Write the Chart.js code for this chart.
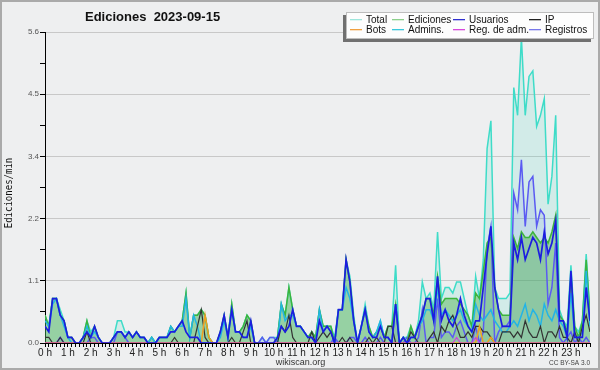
<!DOCTYPE html>
<html><head><meta charset="utf-8">
<script src="https://cdn.jsdelivr.net/npm/chart.js@4/dist/chart.umd.min.js"></script>
<style>html,body{margin:0;padding:0;background:#eeeff0;}canvas{display:block;}</style>
</head><body>
<canvas id="c" width="600" height="370"></canvas>
<script>
const hourLabels = ['0 h','1 h','2 h','3 h','4 h','5 h','6 h','7 h','8 h','9 h','10 h','11 h','12 h','13 h','14 h','15 h','16 h','17 h','18 h','19 h','20 h','21 h','22 h','23 h'];
const yTickValues = [0,0.56,1.12,1.68,2.24,2.8,3.36,3.92,4.48,5.04,5.6];
const seriesNames = ['Total','Ediciones','Usuarios','IP','Bots','Admins.','Reg. de adm.','Registros'];

const total = [
.5,.3,.8,.8,.6,.4, .1,.1,0,0,.1,.4, .2,.3,.1,0,0,0, .1,.4,.4,.2,.2,.1,
.2,.1,.1,0,.1,0, .1,.1,.1,.3,.2,.3, .4,.9,.1,.5,.5,.6, .5,.1,0,0,.2,.5,
.1,.7,.2,.2,.3,.5, .4,0,0,.1,0,.1, .1,.1,.7,.5,1.0,.6, .3,.3,.2,.1,.2,.1,
.6,.3,.3,.3,.1,.6, .6,1.5,1.2,.5,0,.3, .7,.3,.1,.2,.4,.1, .3,.3,1.4,0,.1,.1,
.3,.1,.4,1.1,.8,.9, .6,2.0,.8,1.0,1.0,.9, 1.1,1.1,.8,.5,.3,1.2, .8,1.5,3.5,4.0,1.0,.8,
.8,.8,.9,4.6,4.1,5.5, 4.1,4.8,4.9,3.9,4.1,4.4, 2.5,3.0,4.1,.6,.4,.3, 1.4,.3,.2,.4,1.6,.5];
const ediciones = [
.5,.3,.8,.8,.5,.4, .1,.1,0,0,.1,.4, .1,.3,.1,0,0,0, .1,.2,.2,.1,.2,.1,
.2,.1,.1,0,.1,0, .1,.1,.1,.3,.2,.3, .4,.9,.1,.5,.5,.6, .5,.1,0,0,.2,.5,
.1,.7,.2,.2,.3,.5, .4,0,0,0,0,0, 0,.1,.7,.5,1.0,.6, .3,.3,.2,.1,.2,.1,
.6,.3,.3,.3,0,.6, .6,1.5,1.1,.4,0,.3, .6,.3,.1,.2,.3,.1, .3,.3,.7,0,.1,0,
.3,.1,.3,.5,.8,.8, .5,1.2,.7,.8,.8,.8, .8,.7,.6,.5,.3,.9, .8,1.3,1.8,1.9,1.0,.6,
.5,.5,.5,1.9,1.7,2.0, 1.9,1.9,2.0,1.9,1.8,1.9, 1.8,2.0,2.3,.5,.4,.2, 1.2,.3,.1,.4,1.5,.5];
const usuarios = [
.3,.2,.8,.8,.5,.4, .1,.1,0,0,.1,.2, .1,.3,.1,0,0,0, .1,.2,.2,.1,.2,.1,
.2,.1,.1,0,0,0, .1,.1,.1,.2,.2,.3, .4,.2,.1,.1,.1,0, 0,0,0,0,.2,.5,
.1,.6,.2,.2,.1,.1, .4,0,0,0,0,0, 0,.1,.3,.2,.3,.6, .3,.3,.2,.1,.1,0,
.4,.2,.3,.2,0,.6, .6,1.5,1.1,.4,0,.3, .6,.2,.1,.1,.3,.1, .1,0,.7,0,.1,0,
.1,.1,.3,.5,.8,.8, .4,1.2,.4,.6,.4,.3, .5,.8,.5,.3,.2,.4, .4,1.0,1.6,2.1,1.0,.6,
.3,.3,.3,1.8,1.5,1.9, 1.5,1.7,1.9,1.8,1.5,2.0, 1.6,1.8,2.2,.4,.4,.1, 1.3,.1,.1,.1,1.0,.4];
const ip = [
.1,.1,0,0,.1,0, 0,0,0,0,0,.2, 0,0,0,0,0,0, 0,0,0,0,0,0,
0,0,0,0,0,0, 0,0,0,0,.1,0, 0,0,0,0,.3,.6, .1,0,0,0,0,0,
0,.1,0,0,.2,.4, 0,0,0,0,0,0, 0,0,.3,.2,.5,.1, 0,0,0,0,.2,0,
.1,.2,.1,.2,0,0, .1,0,.1,0,0,0, 0,.1,0,.1,0,0, .3,.3,0,0,0,0,
.2,.1,0,0,0,.1, .2,0,.3,.2,.4,.5, .3,.1,.1,.2,.1,.3, .3,.2,.2,.1,0,0,
.2,.2,.2,.1,.2,.1, .4,.2,.1,.1,.3,0, .2,.2,.1,.3,.1,.1, 0,.2,0,.3,.5,.2];
const bots = [
0,0,0,0,0,0, 0,0,0,0,0,0, 0,0,0,0,0,0, 0,0,0,0,0,0,
0,0,0,0,0,0, 0,0,0,0,0,0, 0,0,0,0,0,0, .5,.1,0,0,0,0,
0,0,0,0,0,0, 0,0,0,0,0,0, 0,0,0,0,0,0, 0,0,0,0,0,0,
0,0,0,0,0,0, 0,0,0,0,0,0, 0,0,0,0,0,0, 0,0,0,0,0,0,
0,0,0,0,0,0, 0,0,0,0,0,0, 0,0,0,0,0,0, .3,0,0,.1,0,0,
0,0,0,0,0,0, 0,0,0,0,0,0, 0,0,0,0,0,0, 0,0,0,0,0,0];
const admins = [
.4,.3,.7,.8,.5,.3, .1,0,0,0,.1,.3, .1,.2,.1,0,0,0, .1,.2,.2,.1,.2,.1,
.2,.1,.1,0,.1,0, .1,.1,.1,.3,.2,.3, .3,.8,.1,.5,.3,0, 0,0,0,0,.1,.4,
.1,.6,.2,.2,.1,.1, .3,0,0,0,0,0, 0,0,.7,.4,.5,.5, .3,.3,.2,.1,.1,0,
.6,.2,.3,.2,0,.6, .6,1.0,.8,.4,0,.3, .6,.2,.1,.2,.4,.1, .1,0,.7,0,.1,0,
.1,.1,.3,.4,.6,.6, .4,1.0,.5,.6,.5,.4, .5,.6,.4,.3,.2,.7, .5,.4,.5,.6,.4,.3,
.2,.2,.3,.4,.3,.5, .7,.4,.6,.5,.3,.7, .5,.4,.6,.4,.3,.1, .9,.1,.1,.2,1.3,.3];
const regAdm = [
0,0,0,0,0,0, 0,0,0,0,0,0, 0,0,0,0,0,0, 0,0,0,0,0,0,
0,0,0,0,0,0, 0,0,0,0,0,0, 0,0,0,0,0,0, 0,0,0,0,0,0,
0,0,0,0,0,0, 0,0,0,0,0,0, 0,0,0,0,0,0, 0,0,0,0,0,0,
0,0,0,0,0,0, 0,0,0,0,0,0, 0,0,0,0,0,0, 0,0,0,0,0,0,
0,0,0,0,0,0, 0,0,0,0,0,0, .1,0,0,0,0,.1, 0,0,0,0,0,0,
0,0,0,0,0,0, 0,0,0,0,0,0, 0,0,0,0,0,0, 0,0,0,0,0,0];
const registros = [
0,0,0,0,.1,0, 0,0,0,0,0,0, .1,.1,0,0,0,0, 0,.2,.2,.1,0,0,
0,0,0,0,0,0, 0,0,0,0,0,0, 0,0,0,0,0,0, 0,0,0,0,0,0,
0,0,0,0,0,0, 0,0,0,.1,0,.1, .1,0,0,0,0,0, 0,0,0,0,0,0,
0,0,0,0,.1,0, 0,0,.1,.1,0,0, .1,0,0,0,.1,0, 0,0,.7,0,0,.1,
0,0,.1,.6,0,.1, .1,.8,.1,.2,.2,.1, .3,.4,.2,0,0,.3, 0,.2,1.7,2.1,0,.2,
.3,.3,.4,2.7,2.4,3.3, 2.1,2.9,3.0,2.1,2.4,2.3, .7,1.0,1.8,.1,0,.1, .2,0,.1,0,.1,0];

const slots = total.map((_, i) => i); // 10-minute slot index

const lineColors = ['#3edcc8','#3cb43c','#1c1ce0','#333333','#f0a020','#22b4e6','#d040e0','#5a5af2'];
const legendColors = ['#9ee6dc','#8cd08c','#3030d0','#222222','#f0a040','#38c8dc','#d848dc','#7878ea'];

function ds(label, data, color, width, order, fill, bg) {
  return { label, data, borderColor: color, borderWidth: width, pointRadius: 0, tension: 0,
    order, fill: fill ? 'origin' : false, backgroundColor: bg || 'transparent' };
}

const datasets = [
  ds(seriesNames[0], total, lineColors[0], 1.5, 8, true, 'rgba(70,215,195,0.16)'),
  ds(seriesNames[7], registros, lineColors[7], 1.5, 7, true, 'rgba(90,110,235,0.12)'),
  ds(seriesNames[1], ediciones, lineColors[1], 1.5, 6, true, 'rgba(60,170,60,0.40)'),
  ds(seriesNames[5], admins, lineColors[5], 1.5, 5, false),
  ds(seriesNames[3], ip, lineColors[3], 1.2, 4, false),
  ds(seriesNames[4], bots, lineColors[4], 1.5, 3, false),
  ds(seriesNames[6], regAdm, lineColors[6], 1.2, 2, false),
  ds(seriesNames[2], usuarios, lineColors[2], 1.7, 1, false)
];

const decor = {
  id: 'decor',
  beforeDraw(chart) {
    const c = chart.ctx;
    c.save(); c.fillStyle = '#eeeff0'; c.fillRect(0, 0, chart.width, chart.height); c.restore();
  },
  afterDraw(chart) {
    const c = chart.ctx;
    c.save();
    c.strokeStyle = '#aaaaaa'; c.lineWidth = 2; c.strokeRect(1, 1, 598, 368);
    c.fillStyle = '#111'; c.font = 'bold 13px "Liberation Sans"'; c.textAlign = 'left'; c.textBaseline = 'alphabetic';
    c.fillText('Ediciones  2023-09-15', 85, 21);
    c.save(); c.translate(9.5, 193); c.rotate(-Math.PI / 2); c.scale(0.82, 1);
    c.font = '11px "DejaVu Sans Mono"'; c.textAlign = 'center'; c.textBaseline = 'middle'; c.fillStyle = '#111';
    c.fillText('Ediciones/min', 0, 0); c.restore();
    c.fillStyle = '#707070'; c.fillRect(343, 15, 248, 27);
    c.fillStyle = '#fdfdfd'; c.fillRect(346, 12.5, 248, 26.5);
    c.strokeStyle = '#bdbdbd'; c.lineWidth = 1; c.strokeRect(346.5, 12.5, 247, 26);
    const textX = [366, 408, 469, 545];
    const entries = [[0,0,0],[1,1,0],[2,2,0],[3,3,0],[4,0,1],[5,1,1],[6,2,1],[7,3,1]];
    c.font = '10px "Liberation Sans"'; c.textAlign = 'left';
    for (const [k, col, row] of entries) {
      const tx = textX[col], ly = row ? 29 : 19, by = row ? 32.7 : 22.7;
      c.fillStyle = legendColors[k];
      c.fillRect(tx - 16, ly, 12, 1.3);
      c.fillStyle = '#111'; c.fillText(seriesNames[k], tx, by);
    }
    c.fillStyle = '#333'; c.font = '9px "Liberation Sans"'; c.textAlign = 'center';
    c.fillText('wikiscan.org', 300.5, 364.5);
    c.fillStyle = '#444'; c.font = '6.5px "Liberation Sans"'; c.textAlign = 'right';
    c.fillText('CC BY-SA 3.0', 590, 365);
    c.restore();
  }
};

new Chart(document.getElementById('c'), {
  type: 'line',
  data: { labels: slots, datasets },
  options: {
    responsive: false, animation: false, devicePixelRatio: 1, events: [],
    layout: { padding: { top: 32, right: 10, left: 0, bottom: 0 } },
    plugins: { legend: { display: false }, tooltip: { enabled: false }, title: { display: false },
      filler: { drawTime: 'beforeDatasetsDraw' } },
    scales: {
      x: {
        type: 'linear', min: 0, max: slots.length - 1,
        afterBuildTicks: s => { s.ticks = slots.map(v => ({ value: v })); },
        afterFit: s => { s.height = 27; },
        ticks: { autoSkip: false, maxRotation: 0, minRotation: 0, padding: 0, color: '#222',
          font: { family: 'Liberation Sans', size: 10 },
          callback: v => (v % 6 === 0 ? hourLabels[v / 6] : '') },
        grid: { drawOnChartArea: false, drawTicks: true, tickLength: 4, tickColor: '#000', tickWidth: 1 },
        border: { display: true, color: '#000', width: 1 }
      },
      y: {
        min: 0, max: 5.6,
        afterBuildTicks: s => { s.ticks = yTickValues.map(v => ({ value: v })); },
        afterFit: s => { s.width = 45; },
        ticks: { padding: 1, color: '#555', font: { family: 'Liberation Sans', size: 8 },
          callback: (v, i) => (i % 2 === 0 ? v.toFixed(1) : '') },
        grid: { color: ctx => (ctx.index % 2 === 0 ? '#c8c8c8' : 'rgba(0,0,0,0)'), lineWidth: 1,
          drawTicks: true, tickLength: 5, tickColor: '#000' },
        border: { display: true, color: '#000', width: 1 }
      }
    }
  },
  plugins: [decor]
});
</script>
</body></html>
